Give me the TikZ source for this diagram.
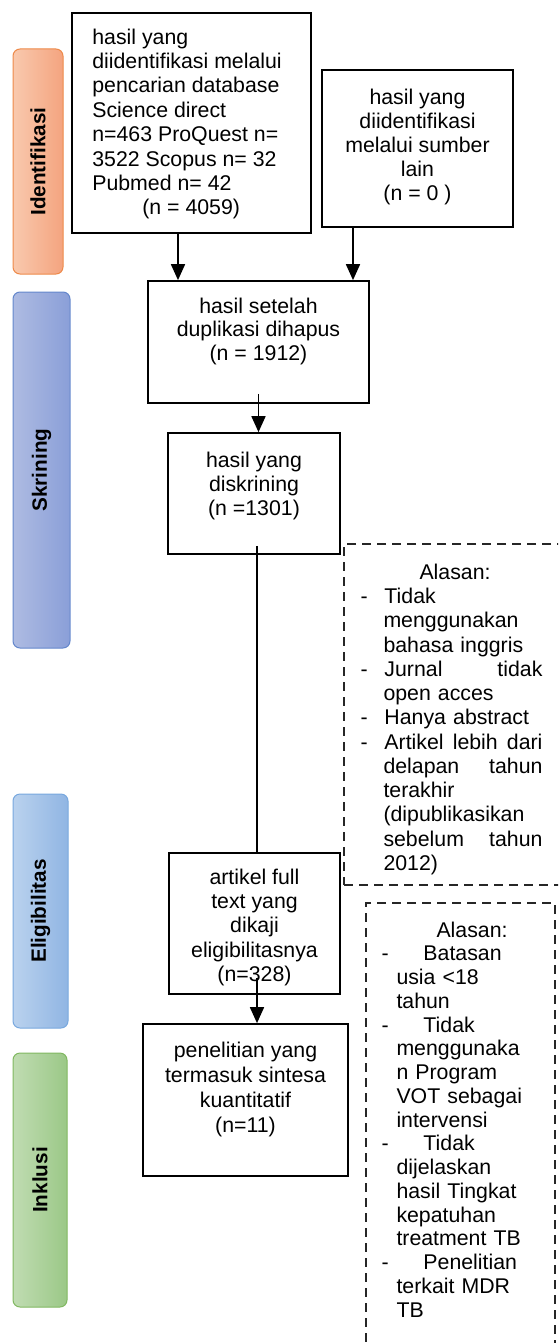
\documentclass[tikz,border=0pt]{standalone}
\usepackage{fontspec}
\setmainfont{Liberation Sans}
\usetikzlibrary{arrows.meta,positioning}

\definecolor{idenL}{HTML}{F9C9AE}
\definecolor{idenR}{HTML}{F4A47F}
\definecolor{idenB}{HTML}{EE8A4A}
\definecolor{skrL}{HTML}{AEBBE2}
\definecolor{skrR}{HTML}{8A9FD8}
\definecolor{skrB}{HTML}{6487CC}
\definecolor{eligL}{HTML}{BAD2EE}
\definecolor{eligR}{HTML}{90B5E3}
\definecolor{eligB}{HTML}{78A8DE}
\definecolor{inkL}{HTML}{C0DCB2}
\definecolor{inkR}{HTML}{9BC887}
\definecolor{inkB}{HTML}{80B860}

\tikzset{
  box/.style={draw=black, line width=1.7pt, inner sep=0pt},
  boxtext/.style={inner sep=0pt, align=center, font=\fontsize{21.3}{24.4}\selectfont},
  reasonbox/.style={draw=black!85, line width=1.4pt, dash pattern=on 9pt off 6pt, inner sep=0pt},
  phasebar/.style n args={3}{rounded corners=7pt, line width=1pt, draw=#3, left color=#1, right color=#2, inner sep=0pt},
  phaselabel/.style={rotate=90, inner sep=0pt, font=\fontsize{20.7}{24}\selectfont\bfseries},
  arr/.style={line width=1.7pt, -{Triangle[length=16pt,width=14pt]}},
}

\begin{document}
\begin{tikzpicture}[x=1pt,y=-1pt]
\useasboundingbox (0,0) rectangle (558,1343);
\clip (0,0) rectangle (558,1343);

% phases
\node[phasebar={idenL}{idenR}{idenB}, minimum width=50pt, minimum height=225pt] (identifikasi) at (38,161.5) {};
\node[phaselabel] at (identifikasi) {Identifikasi};
\node[phasebar={skrL}{skrR}{skrB}, minimum width=57pt, minimum height=356pt] (skrining) at (41.5,470) {};
\node[phaselabel] at (skrining) {Skrining};
\node[phasebar={eligL}{eligR}{eligB}, minimum width=55pt, minimum height=234pt] (eligibilitas) at (40.5,911) {};
\node[phaselabel] at (eligibilitas) {Eligibilitas};
\node[phasebar={inkL}{inkR}{inkB}, minimum width=54pt, minimum height=254pt] (inklusi) at (40,1180) {};
\node[phaselabel] at (inklusi) {Inklusi};

% flow boxes
\node[box, minimum width=239pt, minimum height=220pt] (src) at (191.5,123) {};
\node[boxtext, align=left, below right=16.3pt and 21pt of src.north west] (srctxt) {hasil yang\\ diidentifikasi melalui\\ pencarian database\\ Science direct\\ n=463 ProQuest n=\\ 3522 Scopus n= 32\\ Pubmed n= 42\\ \hspace*{50pt}(n = 4059)};

\node[box, minimum width=191pt, minimum height=157pt] (oth) at (417.5,148.5) {};
\node[boxtext, font=\fontsize{21.3}{24}\selectfont, below=19.3pt of oth.north] (othtxt) {hasil yang\\ diidentifikasi\\ melalui sumber\\ lain\\ (n = 0 )};

\node[box, minimum width=221pt, minimum height=122pt] (dup) at (258.5,342) {};
\node[boxtext, font=\fontsize{21.3}{23.6}\selectfont, below=17.3pt of dup.north] (duptxt) {hasil setelah\\ duplikasi dihapus\\ (n = 1912)};

\node[box, minimum width=172pt, minimum height=121pt] (scr) at (254,493.5) {};
\node[boxtext, font=\fontsize{21.3}{24}\selectfont, below=19.3pt of scr.north] (scrtxt) {hasil yang\\ diskrining\\ (n =1301)};

\node[box, minimum width=171pt, minimum height=141pt] (elig) at (254.5,923.5) {};
\node[boxtext, below=16.3pt of elig.north] (eligtxt) {artikel full\\ text yang\\ dikaji\\ eligibilitasnya\\ (n=328)};

\node[box, minimum width=205pt, minimum height=152pt] (incl) at (245.5,1100) {};
\node[boxtext, font=\fontsize{21.3}{25}\selectfont, below=18.3pt of incl.north] (incltxt) {penelitian yang\\ termasuk sintesa\\ kuantitatif\\ (n=11)};

% reasons
\node[reasonbox, minimum width=218pt, minimum height=341pt] (why1) at (453,714.5) {};
\node[boxtext, align=left, text width=182pt, font=\fontsize{21.3}{24.25}\selectfont, below right=20.5pt and 17pt of why1.north west] (why1txt) {%
\hspace*{59pt}Alasan:\\
\makebox[24pt][l]{-}Tidak\\
\hspace*{23pt}menggunakan\\
\hspace*{23pt}bahasa inggris\\
\makebox[24pt][l]{-}Jurnal\hfill tidak\\
\hspace*{23pt}open acces\\
\makebox[24pt][l]{-}Hanya abstract\\
\makebox[24pt][l]{-}Artikel\hfill lebih\hfill dari\\
\hspace*{23pt}delapan\hfill tahun\\
\hspace*{23pt}terakhir\\
\hspace*{23pt}(dipublikasikan\\
\hspace*{23pt}sebelum\hfill tahun\\
\hspace*{23pt}2012)};

\node[reasonbox, minimum width=189pt, minimum height=467pt] (why2) at (460.5,1136.5) {};
\node[boxtext, align=left, text width=168pt, font=\fontsize{21.3}{23.75}\selectfont, below right=19.3pt and 16pt of why2.north west] (why2txt) {%
\hspace*{55pt}Alasan:\\
\makebox[42pt][l]{-}Batasan\\
\hspace*{15pt}usia <18\\
\hspace*{15pt}tahun\\
\makebox[42pt][l]{-}Tidak\\
\hspace*{15pt}menggunaka\\
\hspace*{15pt}n Program\\
\hspace*{15pt}VOT sebagai\\
\hspace*{15pt}intervensi\\
\makebox[42pt][l]{-}Tidak\\
\hspace*{15pt}dijelaskan\\
\hspace*{15pt}hasil Tingkat\\
\hspace*{15pt}kepatuhan\\
\hspace*{15pt}treatment TB\\
\makebox[42pt][l]{-}Penelitian\\
\hspace*{15pt}terkait MDR\\
\hspace*{15pt}TB};

% connectors
\draw[arr] ([xshift=-13.5pt]src.south) -- ([xshift=-13.5pt]src.south |- dup.north);
\draw[arr] ([xshift=-64.5pt]oth.south) -- ([xshift=-64.5pt]oth.south |- dup.north);
\draw[arr] ([yshift=10pt]dup.south) -- (dup.south |- scr.north);
\draw[line width=1.7pt] ([xshift=3pt,yshift=9pt]scr.south) -- ([xshift=3pt]scr.south |- elig.north);
\draw[arr] ([xshift=2.5pt,yshift=17pt]elig.south) -- ([xshift=2.5pt]elig.south |- incl.north);
\end{tikzpicture}
\end{document}
